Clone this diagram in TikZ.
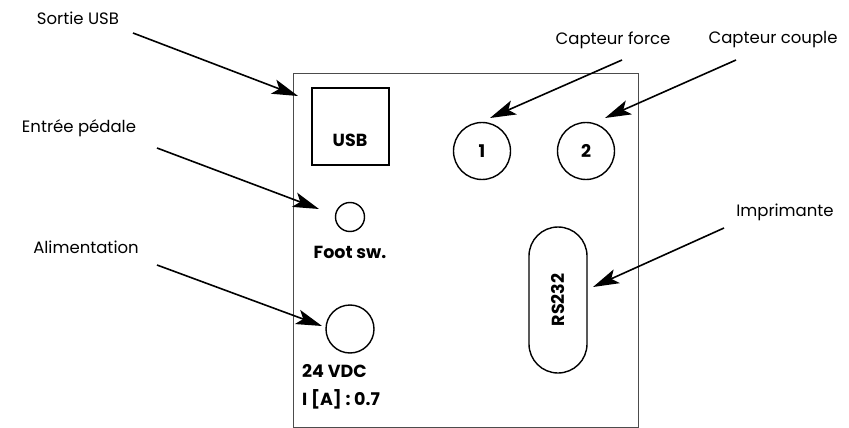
\documentclass[tikz,border=0pt]{standalone}
\usepackage{fontspec}
\setmainfont{Poppins}
\usetikzlibrary{arrows.meta}
\begin{document}
\begin{tikzpicture}[x=1pt,y=-1pt,
  lbl/.style={font=\fontsize{16.5}{19}\selectfont, inner sep=0pt},
  bold/.style={font=\fontsize{17.5}{20}\selectfont\bfseries, inner sep=0pt},
  port/.style={draw, line width=1.4pt, circle, inner sep=0pt},
  arr/.style={line width=1.6pt, -{Stealth[length=26pt,width=15pt,inset=6pt]}}]
\useasboundingbox (0,0) rectangle (849,428);
% enclosure
\node[draw=black!70, line width=0.8pt, minimum width=345pt, minimum height=354pt, inner sep=0pt] (box) at (465.5,250) {};
% USB
\node[draw, line width=1.4pt, minimum width=77pt, minimum height=77pt, inner sep=0pt] (usb) at (350.5,126.5) {};
\node[bold] (usbt) at (350,140) {USB};
% sensor ports
\node[port, minimum size=57pt, font=\fontsize{17.5}{20}\selectfont\bfseries] (p1) at (482,151) {1};
\node[port, minimum size=57pt, font=\fontsize{17.5}{20}\selectfont\bfseries] (p2) at (586,151) {2};
% foot switch
\node[port, minimum size=29pt] (foot) at (350,217) {};
\node[bold] (foott) at (350,252) {Foot sw.};
% power
\node[port, minimum size=48pt] (pwr) at (350,329) {};
\node[bold, anchor=west, align=left] (pwrt1) at (302,371) {24 VDC};
\node[bold, anchor=west, align=left] (pwrt2) at (302,399) {I [A] : 0.7};
% RS232
\node[draw, line width=1.4pt, rounded corners=29pt, minimum width=58pt, minimum height=146pt, inner sep=0pt] (rs) at (558,300) {};
\node[bold, rotate=90] (rst) at (558,300) {RS232};
% labels
\node[lbl] (l1) at (78,18) {Sortie USB};
\node[lbl] (l2) at (79,128) {Entrée pédale};
\node[lbl] (l3) at (86,247) {Alimentation};
\node[lbl] (l4) at (613,40) {Capteur force};
\node[lbl] (l5) at (773,40) {Capteur couple};
\node[lbl] (l6) at (785,212) {Imprimante};
% arrow endpoints
\coordinate (s1) at (133,33);  \coordinate (t1) at (298,96);
\coordinate (s2) at (157,148); \coordinate (t2) at (319,209);
\coordinate (s3) at (157,265); \coordinate (t3) at (322,326);
\coordinate (s4) at (622,60);  \coordinate (t4) at (490,118);
\coordinate (s5) at (736,60);  \coordinate (t5) at (605,118);
\coordinate (s6) at (724,228); \coordinate (t6) at (593,287);
\draw[arr] (s1) -- (t1);
\draw[arr] (s2) -- (t2);
\draw[arr] (s3) -- (t3);
\draw[arr] (s4) -- (t4);
\draw[arr] (s5) -- (t5);
\draw[arr] (s6) -- (t6);
\end{tikzpicture}
\end{document}
